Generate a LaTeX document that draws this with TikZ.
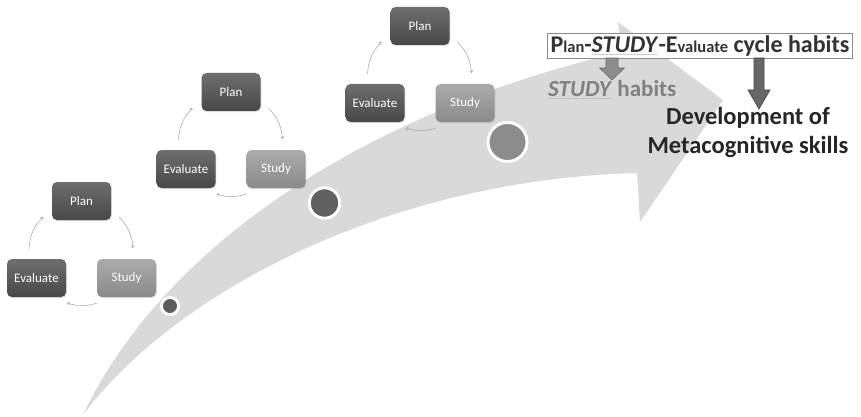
\documentclass[tikz,border=0pt]{standalone}
\usepackage{fontspec}
\setmainfont{Carlito}
\usetikzlibrary{arrows.meta,shadows}
\definecolor{bandgray}{HTML}{D9D9D9}
\definecolor{darktop}{HTML}{6E6E6E}
\definecolor{darkbot}{HTML}{484848}
\definecolor{lighttop}{HTML}{ABABAB}
\definecolor{lightbot}{HTML}{8A8A8A}
\definecolor{hdrtext}{HTML}{333333}
\definecolor{midtext}{HTML}{808080}
\definecolor{devtext}{HTML}{262626}
\newcommand\mydotul[2]{\setbox0\hbox{#2}\rlap{\color{#1}\raisebox{-3pt}{\fontsize{7}{7}\selectfont\leaders\hbox to 1.4pt{\hss.\hss}\hskip\wd0}}\box0\relax}
\tikzset{
  cycbox/.style={rounded corners=5pt, minimum width=59pt, minimum height=38pt,
    inner sep=0pt, text=white, font=\fontsize{13}{13}\selectfont,
    drop shadow={opacity=0.25, shadow xshift=0.8pt, shadow yshift=-1.2pt}},
  darkbox/.style={cycbox, top color=darktop, bottom color=darkbot},
  lightbox/.style={cycbox, top color=lighttop, bottom color=lightbot},
  cyc/.style={draw=black!40, line width=0.45pt, -{To[length=2.5pt,width=3.5pt]}},
  dotstyle/.style={circle, draw=white, line width=2.9pt, inner sep=0pt},
  blockarrow/.style={line width=0.6pt}
}
\begin{document}
\begin{tikzpicture}[x=1pt,y=-1pt]
\useasboundingbox[fill=white] (0,0) rectangle (861,417);
% big curved arrow
\fill[bandgray] (83,415) .. controls (170,232) and (390,105) .. (622,52)
  -- (618,22) -- (723,100) -- (640,222) -- (637,173)
  .. controls (380,180) and (170,298) .. (83,415) -- cycle;
% dots
\node[dotstyle, fill=black!64, minimum size=17.2pt] (d1) at (170,306) {};
\node[dotstyle, fill=black!62, minimum size=30.4pt] (d2) at (324.5,203) {};
\node[dotstyle, fill=black!45, minimum size=39pt] (d3) at (507.5,142) {};
% cycles
\foreach \i/\px/\py in {1/81.5/201, 2/231/92, 3/420/26} {
  \node[darkbox] (p\i) at (\px,\py) {Plan};
  \node[darkbox] (e\i) at (\px-45,\py+77) {Evaluate};
  \node[lightbox] (s\i) at (\px+45,\py+77) {Study};
  \draw[cyc] ([shift={(8,-3)}]p\i.south east) to[bend left=19] ([shift={(6.5,-11)}]s\i.north);
  \draw[cyc] ([shift={(0,6)}]s\i.south west) to[bend left=16] ([shift={(1,6)}]e\i.south east);
  \draw[cyc] ([shift={(-7.5,-10)}]e\i.north) to[bend left=20] ([shift={(-9,-3)}]p\i.south west);
}
% header
\node[draw=black!45, fill=white, line width=0.6pt, minimum width=305pt, minimum height=25pt,
  inner sep=0pt, text height=17.5pt, text depth=3pt, text=hdrtext,
  font=\bfseries\fontsize{24}{24}\selectfont] (hdr) at (700,45.5)
  {P{\fontsize{16.5}{16.5}\selectfont lan}-\mydotul{black!35}{\textit{STUDY}}-E{\fontsize{16.5}{16.5}\selectfont valuate} cycle habits};
\node[anchor=base west, inner sep=0pt, text=midtext, font=\bfseries\fontsize{23}{23}\selectfont] (sh) at (548,97)
  {\mydotul{black!30}{\textit{STUDY}} habits};
\node[anchor=north, align=center, inner sep=0pt, text=devtext, font=\bfseries\fontsize{24.5}{29}\selectfont] (dev) at (748,107)
  {Development of\\Metacognitive skills};
% block arrows
\filldraw[blockarrow, fill=black!45, draw=black!58]
  (606,58) -- (618,58) -- (618,68) -- (624.5,68) -- (612,80) -- (599.5,68) -- (606,68) -- cycle;
\filldraw[blockarrow, fill=black!60, draw=black!72]
  (754,58) -- (764,58) -- (764,90) -- (770,90) -- (759,109) -- (748,90) -- (754,90) -- cycle;
\end{tikzpicture}
\end{document}
